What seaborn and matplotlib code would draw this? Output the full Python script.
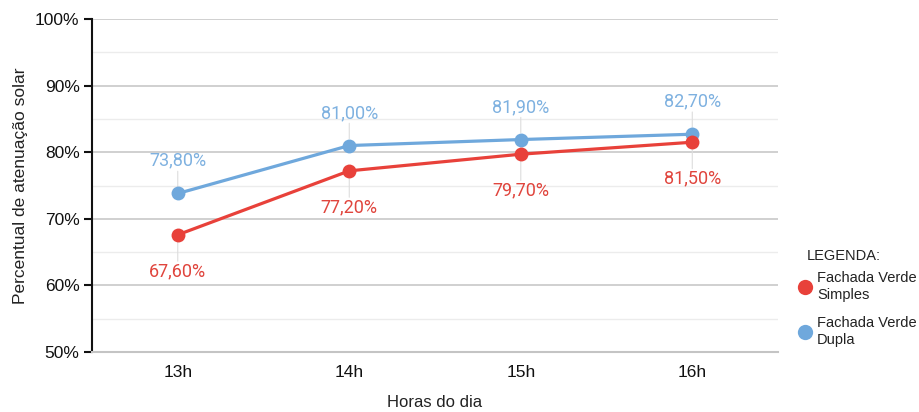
import matplotlib
matplotlib.use("Agg")
import matplotlib.pyplot as plt
from matplotlib.lines import Line2D
from matplotlib.ticker import MultipleLocator, FuncFormatter
import seaborn as sns
import pandas as pd

horas = ["13h", "14h", "15h", "16h"]
simples = [67.6, 77.2, 79.7, 81.5]
dupla = [73.8, 81.0, 81.9, 82.7]
serie_simples = "Fachada Verde\nSimples"
serie_dupla = "Fachada Verde\nDupla"

cor_simples = "#e8413a"
cor_dupla = "#6fa8dc"
texto_simples = "#e0453d"
texto_dupla = "#7eb1e0"

df = pd.DataFrame({
    "hora": horas * 2,
    "pos": list(range(len(horas))) * 2,
    "valor": simples + dupla,
    "serie": [serie_simples] * len(horas) + [serie_dupla] * len(horas),
})

sns.set_style("white")
plt.rcParams["font.family"] = ["Liberation Sans", "DejaVu Sans"]

fig = plt.figure(figsize=(9.2, 4.12), dpi=100)
ax = fig.add_axes([0.1, 0.1456, 0.7457, 0.8083])

sns.lineplot(data=df, x="pos", y="valor", hue="serie",
             hue_order=[serie_dupla, serie_simples],
             palette={serie_simples: cor_simples, serie_dupla: cor_dupla},
             marker="o", markersize=10, markeredgewidth=0, linewidth=2.3,
             legend=False, ax=ax, zorder=3)

ax.set_xlim(-0.5, len(horas) - 0.5)
ax.set_ylim(50, 100)
ax.set_xticks(range(len(horas)))
ax.set_xticklabels(horas)
ax.yaxis.set_major_locator(MultipleLocator(10))
ax.yaxis.set_minor_locator(MultipleLocator(5))
ax.yaxis.set_major_formatter(FuncFormatter(lambda v, p: f"{v:.0f}%"))

ax.grid(axis="y", which="major", color="#c4c4c4", linewidth=1.1, zorder=0)
ax.grid(axis="y", which="minor", color="#ececec", linewidth=1.0, zorder=0)
ax.grid(axis="x", visible=False)
for s in ["top", "right"]:
    ax.spines[s].set_visible(False)
ax.spines["left"].set_color("#111111")
ax.spines["left"].set_linewidth(1.5)
ax.spines["bottom"].set_color("#c4c4c4")
ax.spines["bottom"].set_linewidth(1.5)

ax.tick_params(axis="y", which="major", left=True, length=6, width=1.5,
               color="#111111", labelsize=12.5, labelcolor="#111111", pad=3)
ax.tick_params(axis="y", which="minor", left=False)
ax.tick_params(axis="x", bottom=False, labelsize=12.5, labelcolor="#111111", pad=6)

ax.set_xlabel("Horas do dia", fontsize=12, color="#222222", labelpad=11)
ax.set_ylabel("Percentual de atenuação solar", fontsize=12.5, color="#222222", labelpad=5)

def fmt(v):
    return f"{v:.2f}%".replace(".", ",")

# value labels with faint leader lines: "Dupla" above, "Simples" below
for i, v in enumerate(dupla):
    ax.annotate("", xy=(i, v), xytext=(0, 16), textcoords="offset points",
                arrowprops=dict(arrowstyle="-", color="#dddddd", lw=0.8,
                                shrinkA=0, shrinkB=5), zorder=1)
    ax.annotate(fmt(v), xy=(i, v), xytext=(0, 23.5), textcoords="offset points",
                ha="center", va="center", fontsize=13, color=texto_dupla,
                family=["Roboto", "DejaVu Sans"])
for i, v in enumerate(simples):
    ax.annotate("", xy=(i, v), xytext=(0, -19), textcoords="offset points",
                arrowprops=dict(arrowstyle="-", color="#dddddd", lw=0.8,
                                shrinkA=0, shrinkB=5), zorder=1)
    ax.annotate(fmt(v), xy=(i, v), xytext=(0, -26), textcoords="offset points",
                ha="center", va="center", fontsize=13, color=texto_simples,
                family=["Roboto", "DejaVu Sans"])

fig.text(807 / 920, 1 - 256 / 412, "LEGENDA:", ha="left", va="center",
         fontsize=10.5, color="#222222")
handles = [
    Line2D([], [], linestyle="none", marker="o", markersize=11,
           markerfacecolor=cor_simples, markeredgewidth=0, label=serie_simples),
    Line2D([], [], linestyle="none", marker="o", markersize=11,
           markerfacecolor=cor_dupla, markeredgewidth=0, label=serie_dupla),
]
leg = fig.legend(handles=handles, loc="upper left",
                 bbox_to_anchor=(799 / 920, 1 - 271 / 412), frameon=False,
                 fontsize=10.5, handlelength=0.8, handletextpad=0.45,
                 labelspacing=1.0, borderpad=0, borderaxespad=0)
for t in leg.get_texts():
    t.set_color("#222222")
    t.set_linespacing(1.25)

fig.savefig("out.png", dpi=100)
